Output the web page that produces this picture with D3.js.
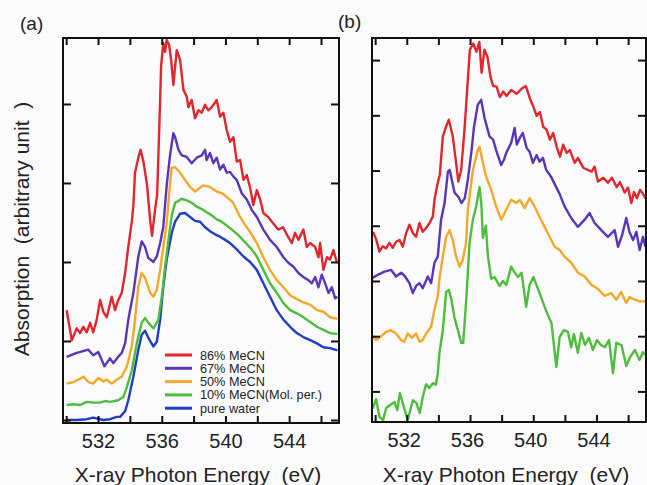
<!DOCTYPE html>
<html>
<head>
<meta charset="utf-8">
<title>O K-edge XAS of MeCN/water</title>
<script src="https://d3js.org/d3.v7.min.js"></script>
<style>
  html, body { margin: 0; padding: 0; background: #fbfbfd; }
  svg { display: block; font-family: "Liberation Sans", Arial, Helvetica, sans-serif; }
</style>
</head>
<body>
<div id="chart"></div>
<script>
// series names and colours
var names = ["86% MeCN", "67% MeCN", "50% MeCN", "10% MeCN(Mol. per.)", "pure water"];
var colors = ["#e2262b", "#5836b8", "#f5a72a", "#4dbd3c", "#1f3ec4"];

// x axis (eV)
var energyTicks = [530, 532, 534, 536, 538, 540, 542, 544, 546];
var energyLabels = [532, 536, 540, 544];
var energyDomain = [529.8, 547.13];

// panel (a): absorption, arbitrary units  [eV, value]
var a86 = [[530.03,1.39],[530.35,1.01],[530.66,1.16],[530.87,1.10],[531.08,1.18],[531.29,1.11],[531.50,1.23],[531.70,1.11],[531.92,1.27],[532.13,1.52],[532.33,1.37],[532.55,1.30],[532.86,1.56],[533.07,1.39],[533.27,1.52],[533.49,1.61],[533.70,1.86],[533.90,2.19],[534.12,2.51],[534.22,2.72],[534.32,3.13],[534.53,3.32],[534.67,3.42],[534.85,3.27],[535.08,2.97],[535.27,2.53],[535.39,2.33],[535.58,2.66],[535.71,2.85],[535.90,4.05],[535.96,4.49],[536.10,4.77],[536.21,4.66],[536.31,4.81],[536.46,4.75],[536.59,4.56],[536.73,4.24],[536.94,4.68],[537.15,4.56],[537.36,4.18],[537.57,4.09],[537.67,3.96],[537.88,4.05],[538.09,3.82],[538.30,3.92],[538.51,3.89],[538.72,3.99],[538.93,3.92],[539.14,3.96],[539.45,4.05],[539.66,3.84],[539.87,3.89],[540.08,3.67],[540.29,3.52],[540.50,3.58],[540.71,3.27],[540.92,3.29],[541.13,3.04],[541.34,3.10],[541.55,2.94],[541.75,2.72],[541.97,2.91],[542.18,2.79],[542.38,2.62],[542.68,2.57],[542.99,2.49],[543.31,2.41],[543.62,2.44],[543.93,2.32],[544.17,2.24],[544.37,2.37],[544.58,2.28],[544.89,2.41],[545.11,2.19],[545.32,2.24],[545.63,2.19],[545.84,2.06],[545.94,2.24],[546.15,1.90],[546.37,2.06],[546.57,2.03],[546.78,2.15],[546.99,2.00]];
var a67 = [[530.03,0.80],[530.66,0.85],[531.39,0.89],[531.70,0.82],[532.02,0.86],[532.40,0.68],[532.75,0.78],[532.96,0.72],[533.27,0.80],[533.49,0.85],[533.70,0.97],[533.90,1.27],[534.22,1.61],[534.53,2.07],[534.74,2.26],[534.95,2.19],[535.16,2.05],[535.48,2.00],[535.69,2.07],[535.90,2.24],[536.10,2.45],[536.31,2.97],[536.52,3.35],[536.73,3.63],[536.84,3.58],[537.05,3.42],[537.26,3.35],[537.57,3.33],[537.88,3.25],[538.20,3.32],[538.51,3.35],[538.72,3.42],[538.82,3.29],[539.03,3.38],[539.24,3.25],[539.45,3.32],[539.66,3.17],[539.87,3.23],[540.08,3.13],[540.29,3.14],[540.50,3.08],[540.71,3.04],[541.02,2.87],[541.34,2.79],[541.65,2.66],[541.97,2.57],[542.38,2.41],[542.80,2.28],[543.22,2.19],[543.64,2.06],[543.95,1.99],[544.27,1.94],[544.58,1.86],[544.89,1.81],[545.21,1.77],[545.42,1.73],[545.63,1.81],[545.84,1.68],[546.05,1.84],[546.26,1.73],[546.47,1.61],[546.68,1.68],[546.89,1.54],[547.03,1.56]];
var a50 = [[530.03,0.46],[530.45,0.48],[530.76,0.51],[531.08,0.55],[531.39,0.48],[531.70,0.46],[532.02,0.53],[532.33,0.49],[532.55,0.51],[532.86,0.46],[533.17,0.51],[533.49,0.55],[533.80,0.67],[534.12,0.93],[534.32,1.27],[534.53,1.69],[534.74,1.86],[534.95,1.80],[535.27,1.61],[535.48,1.56],[535.69,1.65],[535.90,1.90],[536.10,2.19],[536.31,2.49],[536.46,2.85],[536.62,3.19],[536.84,3.20],[537.15,3.13],[537.46,3.04],[537.78,2.95],[538.09,2.89],[538.41,2.94],[538.59,2.97],[539.03,2.95],[539.47,2.89],[539.79,2.87],[540.10,2.82],[540.48,2.75],[540.92,2.57],[541.23,2.47],[541.55,2.38],[541.97,2.24],[542.38,2.06],[542.80,1.90],[543.22,1.77],[543.64,1.68],[544.06,1.58],[544.48,1.53],[544.89,1.49],[545.32,1.46],[545.74,1.39],[546.15,1.37],[546.57,1.30],[547.03,1.28]];
var a10 = [[530.03,0.19],[530.45,0.20],[530.87,0.19],[531.29,0.23],[531.70,0.22],[532.13,0.22],[532.44,0.24],[532.75,0.23],[533.27,0.25],[533.59,0.29],[533.80,0.41],[534.12,0.63],[534.43,0.97],[534.74,1.23],[534.95,1.29],[535.16,1.23],[535.48,1.16],[535.79,1.27],[536.00,1.56],[536.21,1.94],[536.42,2.28],[536.63,2.59],[536.84,2.75],[537.05,2.77],[537.22,2.80],[537.57,2.78],[537.88,2.75],[538.20,2.70],[538.51,2.67],[538.82,2.63],[539.14,2.59],[539.45,2.54],[539.77,2.51],[540.08,2.46],[540.40,2.41],[540.81,2.34],[541.23,2.25],[541.65,2.16],[541.97,2.07],[542.38,1.90],[542.80,1.73],[543.22,1.61],[543.64,1.48],[544.06,1.39],[544.48,1.35],[544.89,1.30],[545.32,1.24],[545.74,1.18],[546.15,1.14],[546.57,1.10],[547.03,1.09]];
var a0 = [[530.03,0.00],[530.66,0.00],[531.29,0.01],[531.70,0.03],[532.33,0.00],[532.75,0.01],[533.17,0.04],[533.38,0.04],[533.70,0.11],[533.90,0.25],[534.22,0.55],[534.53,0.89],[534.74,1.08],[534.95,1.13],[535.16,1.04],[535.48,0.93],[535.69,0.99],[535.90,1.27],[536.10,1.69],[536.31,2.03],[536.63,2.37],[536.84,2.51],[537.15,2.61],[537.46,2.62],[537.78,2.57],[538.09,2.52],[538.41,2.51],[538.72,2.44],[539.03,2.39],[539.35,2.35],[539.66,2.32],[539.98,2.28],[540.29,2.24],[540.71,2.16],[541.13,2.07],[541.55,2.00],[541.97,1.90],[542.38,1.73],[542.80,1.56],[543.22,1.39],[543.64,1.27],[544.06,1.18],[544.48,1.10],[544.89,1.05],[545.32,1.01],[545.74,0.97],[546.15,0.92],[546.57,0.91],[547.03,0.88]];

// panel (b)
var b86 = [[529.87,3.89],[530.08,3.74],[530.27,3.53],[530.48,3.63],[530.69,3.59],[530.90,3.69],[531.11,3.60],[531.32,3.71],[531.54,3.74],[531.75,3.62],[531.96,3.87],[532.17,4.02],[532.38,3.87],[532.59,3.80],[532.80,4.05],[533.01,3.89],[533.22,3.96],[533.44,4.05],[533.65,4.17],[533.75,4.47],[533.96,4.78],[534.09,4.92],[534.28,5.62],[534.49,5.80],[534.66,5.92],[534.91,5.62],[535.12,5.14],[535.26,4.80],[535.44,5.01],[535.65,5.74],[535.86,6.64],[535.99,7.19],[536.20,7.30],[536.41,7.15],[536.59,7.33],[536.73,6.77],[536.91,7.19],[537.10,7.06],[537.29,6.70],[537.46,6.53],[537.68,6.52],[537.89,6.33],[538.10,6.43],[538.31,6.35],[538.61,6.46],[538.94,6.39],[539.26,6.48],[539.53,6.53],[539.79,6.30],[539.99,6.17],[540.21,5.99],[540.42,6.06],[540.63,5.79],[540.84,5.74],[541.05,5.56],[541.26,5.68],[541.48,5.43],[541.69,5.25],[541.89,5.47],[542.11,5.32],[542.32,5.37],[542.62,5.14],[542.82,5.23],[543.16,5.05],[543.46,5.01],[543.69,4.98],[543.88,5.07],[544.09,4.80],[544.43,4.87],[544.72,4.78],[544.98,4.87],[545.27,4.70],[545.48,4.79],[545.78,4.60],[545.99,4.69],[546.20,4.41],[546.37,4.61],[546.56,4.50],[546.75,4.65],[546.94,4.58],[547.09,4.50]];
var b67 = [[529.80,3.05],[530.16,3.11],[530.59,3.17],[531.01,3.20],[531.32,3.08],[531.64,3.15],[531.87,3.09],[532.17,2.96],[532.38,2.78],[532.59,2.91],[532.80,2.96],[533.01,2.87],[533.33,3.08],[533.54,2.96],[533.75,3.33],[533.96,3.44],[534.07,3.80],[534.17,4.11],[534.39,4.41],[534.60,4.98],[534.72,5.01],[534.85,4.83],[535.02,4.60],[535.27,4.52],[535.46,4.41],[535.67,4.50],[535.86,4.83],[536.10,5.37],[536.24,5.77],[536.49,6.19],[536.70,6.28],[536.92,5.95],[537.23,5.62],[537.46,5.56],[537.65,5.37],[537.97,5.10],[538.14,5.19],[538.29,5.32],[538.60,5.50],[538.82,5.77],[538.96,5.47],[539.15,5.59],[539.34,5.68],[539.58,5.41],[539.77,5.34],[539.98,5.14],[540.21,5.28],[540.40,5.16],[540.61,5.23],[540.82,5.01],[541.12,4.89],[541.45,4.70],[541.69,4.56],[541.98,4.35],[542.40,4.14],[542.82,3.98],[543.25,4.11],[543.56,4.23],[543.88,4.05],[544.30,3.92],[544.72,3.80],[545.15,3.92],[545.36,3.62],[545.61,3.82],[545.88,4.14],[546.08,3.89],[546.31,3.74],[546.52,3.89],[546.73,3.56],[546.94,3.80],[547.09,3.62]];
var b50 = [[529.80,2.02],[530.06,1.93],[530.35,1.99],[530.69,2.08],[530.99,2.11],[531.32,2.05],[531.64,1.93],[531.84,1.90],[532.06,2.05],[532.32,1.97],[532.59,2.05],[532.80,1.90],[533.01,1.93],[533.22,2.05],[533.54,2.17],[533.75,2.48],[533.96,2.72],[534.07,3.05],[534.28,3.44],[534.49,3.80],[534.70,3.92],[534.91,3.74],[535.12,3.44],[535.34,3.26],[535.54,3.38],[535.75,3.69],[535.86,4.29],[536.18,5.01],[536.49,5.37],[536.60,5.43],[536.81,5.14],[537.02,4.89],[537.34,4.65],[537.65,4.35],[537.97,4.11],[538.29,4.29],[538.60,4.47],[538.92,4.41],[539.15,4.47],[539.45,4.32],[539.77,4.50],[540.08,4.35],[540.40,4.16],[540.72,3.98],[541.03,3.80],[541.35,3.62],[541.67,3.56],[541.98,3.44],[542.40,3.33],[542.82,3.15],[543.25,3.08],[543.67,2.93],[544.09,2.86],[544.51,2.73],[544.93,2.78],[545.25,2.66],[545.56,2.80],[545.88,2.60],[546.09,2.71],[546.36,2.67],[546.72,2.63],[547.09,2.63]];
var b10 = [[529.85,0.69],[530.06,0.86],[530.27,0.54],[530.50,0.48],[530.70,0.70],[530.92,0.75],[531.22,0.81],[531.40,0.66],[531.56,0.97],[531.78,0.75],[532.06,0.48],[532.38,0.84],[532.61,0.79],[532.82,0.61],[533.01,0.90],[533.22,1.13],[533.42,1.06],[533.65,1.15],[533.84,1.12],[533.96,1.33],[534.07,1.71],[534.28,2.11],[534.49,2.80],[534.66,2.84],[534.82,2.66],[535.02,2.33],[535.23,2.11],[535.44,1.88],[535.57,1.88],[535.67,2.29],[535.78,2.75],[535.97,3.69],[536.18,4.11],[536.39,4.35],[536.60,4.70],[536.72,4.38],[536.81,3.78],[537.00,4.00],[537.13,3.45],[537.34,3.04],[537.55,3.07],[537.87,2.91],[538.08,3.00],[538.30,2.93],[538.60,3.26],[538.81,3.16],[539.03,3.07],[539.26,3.15],[539.55,2.53],[539.77,2.93],[540.01,3.07],[540.40,2.78],[540.72,2.53],[540.93,2.38],[541.15,2.24],[541.46,1.44],[541.67,1.99],[541.94,2.11],[542.19,2.08],[542.40,1.80],[542.57,2.04],[542.82,1.70],[543.04,2.06],[543.27,1.84],[543.52,1.97],[543.77,1.75],[544.03,1.93],[544.28,1.84],[544.53,1.80],[544.79,1.93],[545.04,1.33],[545.25,1.88],[545.58,1.84],[545.88,1.46],[546.12,1.62],[546.43,1.75],[546.72,1.57],[546.94,1.71],[547.09,1.66]];

var panels = [
  { tag: "(a)", box: { left: 63, right: 339, top: 38, bottom: 423 },
    yDomain: [-0.038, 4.835], yTicks: [0, 1, 2, 3, 4],
    series: [a86, a67, a50, a10, a0], legend: true, labelShift: 0 },
  { tag: "(b)", box: { left: 372, right: 646, top: 38, bottom: 422 },
    yDomain: [0.446, 7.40], yTicks: [1, 2, 3, 4, 5, 6, 7],
    series: [b86, b67, b50, b10], legend: false, labelShift: -3 }
];

var W = 647, H = 485;
var svg = d3.select("#chart").append("svg")
  .attr("width", W)
  .attr("height", H);

svg.append("rect").attr("width", W).attr("height", H).attr("fill", "#fbfbfd");

panels.forEach(function(p, pi) {
  var b = p.box;
  var x = d3.scaleLinear().domain(energyDomain).range([b.left, b.right]);
  var y = d3.scaleLinear().domain(p.yDomain).range([b.bottom, b.top]);

  var clipId = "clip" + pi;
  svg.append("clipPath").attr("id", clipId)
    .append("rect")
    .attr("x", b.left).attr("y", b.top)
    .attr("width", b.right - b.left).attr("height", b.bottom - b.top);

  var line = d3.line()
    .x(function(d) { return x(d[0]); })
    .y(function(d) { return y(d[1]); });

  // draw lowest curve first so red ends up on top
  var g = svg.append("g").attr("clip-path", "url(#" + clipId + ")");
  for (var i = p.series.length - 1; i >= 0; i--) {
    g.append("path")
      .datum(p.series[i])
      .attr("fill", "none")
      .attr("stroke", colors[i])
      .attr("stroke-width", 2.4)
      .attr("stroke-linejoin", "round")
      .attr("d", line);
  }

  // axes, ticks pointing inward
  var fmt = function(d) { return energyLabels.indexOf(d) >= 0 ? d : ""; };
  var bottom = svg.append("g")
    .attr("transform", "translate(0," + b.bottom + ")")
    .call(d3.axisBottom(x).tickValues(energyTicks).tickFormat(fmt)
      .tickSizeInner(-7).tickSizeOuter(0).tickPadding(11));
  bottom.selectAll("text").attr("font-size", 20).attr("fill", "#222")
    .attr("dx", p.labelShift)
    .attr("font-family", "Liberation Sans, Arial, sans-serif");

  svg.append("g")
    .attr("transform", "translate(0," + b.top + ")")
    .call(d3.axisTop(x).tickValues(energyTicks).tickFormat("")
      .tickSizeInner(-7).tickSizeOuter(0));

  svg.append("g")
    .attr("transform", "translate(" + b.left + ",0)")
    .call(d3.axisLeft(y).tickValues(p.yTicks).tickFormat("")
      .tickSizeInner(-8).tickSizeOuter(0));

  svg.append("g")
    .attr("transform", "translate(" + b.right + ",0)")
    .call(d3.axisRight(y).tickValues(p.yTicks).tickFormat("")
      .tickSizeInner(-8).tickSizeOuter(0));

  svg.selectAll(".domain").remove();
  svg.selectAll(".tick line").attr("stroke", "#111").attr("stroke-width", 2);

  // frame
  svg.append("rect")
    .attr("x", b.left).attr("y", b.top)
    .attr("width", b.right - b.left).attr("height", b.bottom - b.top)
    .attr("fill", "none").attr("stroke", "#111").attr("stroke-width", 2);

  // x title
  svg.append("text")
    .attr("x", (b.left + b.right) / 2 - 3)
    .attr("y", 482)
    .attr("text-anchor", "middle")
    .attr("font-size", 21)
    .attr("fill", "#222")
    .style("white-space", "pre")
    .text("X-ray Photon Energy  (eV)");

  // panel tag
  svg.append("text")
    .attr("x", pi === 0 ? 20 : 338)
    .attr("y", pi === 0 ? 30 : 28)
    .attr("font-size", 19)
    .attr("fill", "#222")
    .text(p.tag);

  if (p.legend) {
    var lg = svg.append("g").attr("transform", "translate(165,355)");
    names.forEach(function(n, i) {
      lg.append("line")
        .attr("x1", 0).attr("x2", 27)
        .attr("y1", i * 13.3).attr("y2", i * 13.3)
        .attr("stroke", colors[i]).attr("stroke-width", 3);
      lg.append("text")
        .attr("x", 35).attr("y", i * 13.3)
        .attr("dy", "0.36em")
        .attr("font-size", 12.7)
        .attr("fill", "#222")
        .text(n);
    });
  }
});

// y title
svg.append("text")
  .attr("transform", "translate(29,229) rotate(-90)")
  .attr("text-anchor", "middle")
  .attr("font-size", 21)
  .attr("fill", "#222")
  .style("white-space", "pre")
  .text("Absorption  (arbitrary unit  )");
</script>
</body>
</html>
